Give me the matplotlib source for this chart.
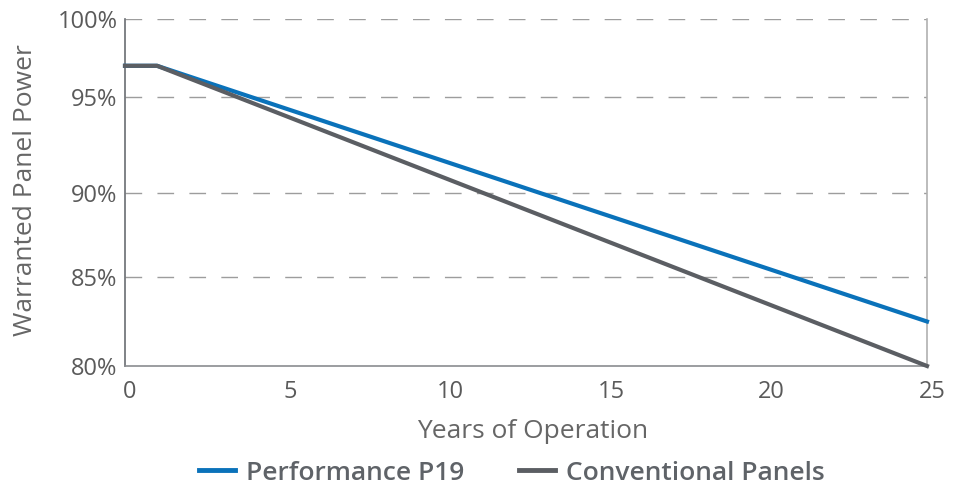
import numpy as np
import matplotlib
matplotlib.use('Agg')
import matplotlib.pyplot as plt
import matplotlib.transforms as mtransforms

plt.rcParams['font.family'] = ['Open Sans', 'DejaVu Sans']

years = [0, 1, 25]
p19 = [97, 97, 82.5]
conventional = [97, 97, 80]
seriesNames = ['Performance P19', 'Conventional Panels']
seriesColors = ['#0a72ba', '#5b5e63']
yTicks = [80, 85, 90, 95, 100]
yTickLabels = ['80%', '85%', '90%', '95%', '100%']
xTicks = [0, 5, 10, 15, 20, 25]

# the original axis is not evenly spaced, map the gridlines where they sit
gridVals = [60, 80, 85, 90, 95, 100, 120]
gridPos = [-356, 0, 89, 173, 269, 347, 703]

def fwd(v):
        return np.interp(v, gridVals, gridPos)

def inv(p):
        return np.interp(p, gridPos, gridVals)

fig = plt.figure(figsize=(9.6, 4.88), dpi=100)
ax = fig.add_axes([125/960, 1-366/488, (927-125)/960, (366-19)/488])
ax.set_yscale('function', functions=(fwd, inv))

ax.plot(years, p19, color=seriesColors[0], lw=3, label=seriesNames[0], clip_on=False, zorder=3)
ax.plot(years, conventional, color=seriesColors[1], lw=3, label=seriesNames[1], clip_on=False, zorder=4)

ax.set_xlim(0, 25)
ax.set_ylim(80, 100)
ax.set_xticks(xTicks)
ax.set_yticks(yTicks)
ax.set_yticklabels(yTickLabels)
ax.minorticks_off()
ax.tick_params(length=0, labelsize=17, colors='#5a5a5a')
ax.tick_params(axis='y', pad=5.5)
ax.tick_params(axis='x', pad=10)
shift = mtransforms.ScaledTranslation(5/100, 0, fig.dpi_scale_trans)
for lbl in ax.get_xticklabels():
        lbl.set_transform(lbl.get_transform() + shift)

for v in yTicks[1:]:
        ax.axhline(v, color='#9d9d9d', lw=1, dashes=(12, 11), zorder=1)

ax.spines['top'].set_visible(False)
ax.spines['left'].set_color('#6a6d72')
ax.spines['bottom'].set_color('#8a8c90')
ax.spines['right'].set_color('#b0b0b0')
for s in ['left', 'bottom', 'right']:
        ax.spines[s].set_linewidth(1.2)

ax.set_xlabel('Years of Operation', fontsize=19, color='#666666')
ax.xaxis.label.set_va('center')
ax.xaxis.set_label_coords((533-125)/802, -(432-366)/347)
ax.set_ylabel('Warranted Panel Power', fontsize=19, color='#666666')
ax.yaxis.label.set_va('center')
ax.yaxis.set_label_coords(-(125-26)/802, (366-190)/347)

leg = fig.legend(loc='center', bbox_to_anchor=(512/960, 1-473/488), ncol=2, frameon=False,
                 handlelength=1.35, columnspacing=2.1, handletextpad=0.42,
                 prop={'size': 19, 'weight': 'semibold'})
for t in leg.get_texts():
        t.set_color('#5f6368')
for h in leg.legend_handles:
        h.set_linewidth(3.5)

fig.savefig('out.png', dpi=100)
